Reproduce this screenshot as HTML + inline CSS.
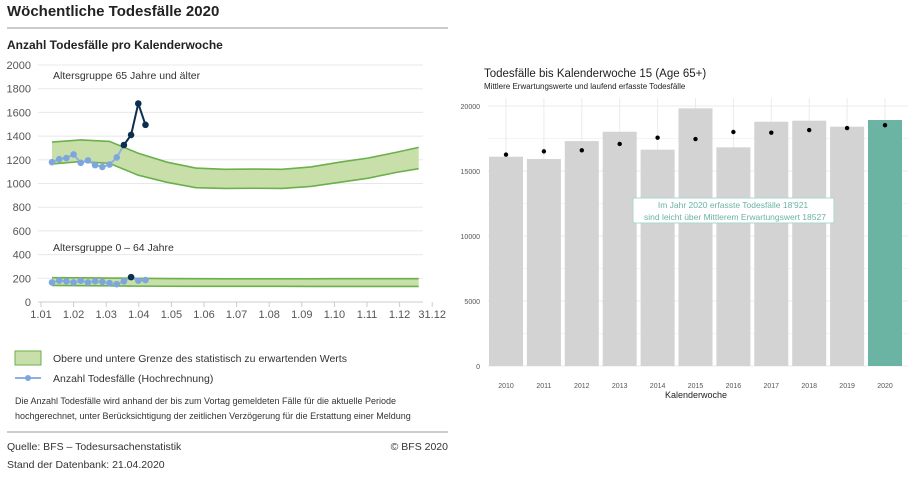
<!DOCTYPE html>
<html><head><meta charset="utf-8"><style>
body{margin:0;background:#fff;width:920px;height:484px;overflow:hidden;font-family:"Liberation Sans",sans-serif}
svg{display:block}
</style></head><body>
<svg id="s" width="920" height="484" xmlns="http://www.w3.org/2000/svg" font-family="Liberation Sans, sans-serif">
<text x="7" y="16" font-size="15" font-weight="bold" fill="#222">Wöchentliche Todesfälle 2020</text>
<line x1="7" y1="28" x2="448" y2="28" stroke="#bbb" stroke-width="1.5"/>
<text x="7" y="49" font-size="12" font-weight="bold" fill="#222">Anzahl Todesfälle pro Kalenderwoche</text>
<g id="left"></g>
<g id="right"></g>
<g>
<rect x="15" y="351" width="26" height="14" fill="#c9dfaa" stroke="#6ab04c" stroke-width="1"/>
<text x="53" y="362" font-size="10.5" fill="#333">Obere und untere Grenze des statistisch zu erwartenden Werts</text>
<line x1="15" y1="378" x2="41" y2="378" stroke="#8eb1e0" stroke-width="2"/>
<circle cx="28" cy="378" r="3" fill="#7fa6dc"/>
<text x="53" y="382" font-size="10.5" fill="#333">Anzahl Todesfälle (Hochrechnung)</text>
</g>
<text x="15" y="404" font-size="9" fill="#333">Die Anzahl Todesfälle wird anhand der bis zum Vortag gemeldeten Fälle für die aktuelle Periode</text>
<text x="15" y="419" font-size="9" fill="#333">hochgerechnet, unter Berücksichtigung der zeitlichen Verzögerung für die Erstattung einer Meldung</text>
<line x1="7" y1="432" x2="448" y2="432" stroke="#bbb" stroke-width="1.5"/>
<text x="7" y="450" font-size="10.5" fill="#333">Quelle: BFS – Todesursachenstatistik</text>
<text x="448" y="450" font-size="10.5" fill="#333" text-anchor="end">© BFS 2020</text>
<text x="7" y="468" font-size="10.5" fill="#333">Stand der Datenbank: 21.04.2020</text>
</svg>
<script>
const NS="http://www.w3.org/2000/svg";
// Left chart data
const yTicksL=[0,200,400,600,800,1000,1200,1400,1600,1800,2000];
const xTickLabelsL=["1.01","1.02","1.03","1.04","1.05","1.06","1.07","1.08","1.09","1.10","1.11","1.12","31.12"];
const bandWeeks=[1,5,9,13,17,21,25,29,33,37,41,45,49,52];
const upper65=[1350,1368,1355,1255,1180,1130,1120,1122,1120,1140,1180,1215,1265,1305];
const lower65=[1165,1185,1170,1070,1010,965,958,960,958,975,1010,1045,1095,1125];
const upper064=[205,204,202,200,198,197,196,196,196,196,197,197,197,197];
const lower064=[140,138,136,134,133,132,132,132,132,131,131,131,131,131];
const weeks=[1,2,3,4,5,6,7,8,9,10,11,12,13,14];
const deaths65=[1180,1205,1215,1245,1175,1195,1155,1140,1160,1220,1325,1410,1675,1495];
const deaths064=[165,180,175,165,180,165,175,170,160,150,175,210,180,185];
const dark65From=10; // index from which 65+ is dark
const dark064=[11];
// Right chart data
const years=["2010","2011","2012","2013","2014","2015","2016","2017","2018","2019","2020"];
const recorded=[16100,15920,17300,18020,16640,19820,16820,18790,18870,18410,18921];
const expected=[16260,16510,16590,17080,17560,17460,18000,17950,18150,18300,18527];
const yTicksR=[0,5000,10000,15000,20000];

function mk(tag,attrs,parent,txt){const e=document.createElementNS(NS,tag);for(const k in attrs)e.setAttribute(k,attrs[k]);if(txt!=null)e.textContent=txt;parent.appendChild(e);return e;}
const L=document.getElementById('left');
const yL=v=>302-v*(237/2000);
const xW=w=>52+(w-1)*7.19;
yTicksL.forEach(t=>{
 const g=mk('line',{x1:38,x2:423,y1:yL(t),y2:yL(t),stroke:t===0?'#ccc':'#e8e8e8'},L);
 
 
 const tx=mk('text',{x:31,y:yL(t)+4,'font-size':11,fill:'#555','text-anchor':'end'},L,String(t));
 
 
});
xTickLabelsL.forEach((s,i)=>{
 const x=41+i*32.6;
 const tk=mk('line',{x1:x,x2:x,y1:302,y2:307,stroke:'#ccc'},L);
 
 
 const tx=mk('text',{x:x,y:318,'font-size':11,fill:'#555','text-anchor':'middle'},L,s);
 
 
});
function band(up,lo,name){
 let d='M'+bandWeeks.map((w,i)=>xW(w)+','+yL(up[i])).join('L');
 d+='L'+bandWeeks.slice().reverse().map((w,i)=>xW(w)+','+yL(lo[lo.length-1-i])).join('L')+'Z';
 const p=mk('path',{d:d,fill:'#c9dfaa',stroke:'none'},L);
 
 
 [up,lo].forEach((arr,k)=>{
  const l=mk('path',{d:'M'+bandWeeks.map((w,i)=>xW(w)+','+yL(arr[i])).join('L'),fill:'none',stroke:'#6ab04c','stroke-width':1.6},L);
  
  
 });
}
band(upper65,lower65,'band-65plus');
band(upper064,lower064,'band-0-64');
function series(vals,isDark,name){
 for(let i=0;i<vals.length-1;i++){
  const dk=isDark(i)&&isDark(i+1);
  const l=mk('line',{x1:xW(weeks[i]),y1:yL(vals[i]),x2:xW(weeks[i+1]),y2:yL(vals[i+1]),stroke:dk?'#0d2f4f':'#8eb1e0','stroke-width':2},L);
  
  
 }
 vals.forEach((v,i)=>{
  const c=mk('circle',{cx:xW(weeks[i]),cy:yL(v),r:3.3,fill:isDark(i)?'#0d2f4f':'#7fa6dc'},L);
  
  
 });
}
series(deaths65,i=>i>=dark65From,'deaths-65plus');
series(deaths064,i=>dark064.includes(i),'deaths-0-64');
let t1=mk('text',{x:53,y:79,'font-size':10.5,fill:'#333'},L,'Altersgruppe 65 Jahre und älter');


let t2=mk('text',{x:53,y:251,'font-size':10.5,fill:'#333'},L,'Altersgruppe 0 – 64 Jahre');



// Right chart
const R=document.getElementById('right');
const yR=v=>366-v*(260/20000);
const xR=i=>506+i*37.9;
let rt=mk('text',{x:484,y:77,'font-size':11.5,fill:'#222'},R,'Todesfälle bis Kalenderwoche 15 (Age 65+)');


let rs=mk('text',{x:484,y:89,'font-size':8,fill:'#222'},R,'Mittlere Erwartungswerte und laufend erfasste Todesfälle');


for(let v=0;v<=20000;v+=2500){
 const g=mk('line',{x1:488,x2:908,y1:yR(v),y2:yR(v),stroke:v%5000===0?'#ebebeb':'#f4f4f4'},R);
 
 
}
years.forEach((y,i)=>{
 const g=mk('line',{x1:xR(i),x2:xR(i),y1:yR(20000)-8,y2:366,stroke:'#ebebeb'},R);
 
 
});
yTicksR.forEach(t=>{
 const tx=mk('text',{x:480,y:yR(t)+3,'font-size':7,fill:'#555','text-anchor':'end'},R,String(t));
 
 
});
years.forEach((y,i)=>{
 const b=mk('rect',{x:xR(i)-17,y:yR(recorded[i]),width:34,height:366-yR(recorded[i]),fill:y==='2020'?'#6bb3a2':'#d3d3d3'},R);
 
 
 const c=mk('circle',{cx:xR(i),cy:yR(expected[i]),r:2.2,fill:'#000'},R);
 
 
 const tx=mk('text',{x:xR(i),y:388,'font-size':7,fill:'#555','text-anchor':'middle'},R,y);
 
 
});
let xt=mk('text',{x:696,y:398,'font-size':9,fill:'#222','text-anchor':'middle'},R,'Kalenderwoche');


let ab=mk('rect',{x:633,y:198,width:201,height:25,fill:'#fff',stroke:'#a8d8cb','stroke-width':1,rx:1.5},R);


let a1=mk('text',{x:733,y:208,'font-size':8.5,fill:'#6bb3a2','text-anchor':'middle'},R,'Im Jahr 2020 erfasste Todesfälle 18\'921');


let a2=mk('text',{x:735,y:220,'font-size':8.5,fill:'#6bb3a2','text-anchor':'middle'},R,'sind leicht über Mittlerem Erwartungswert 18527');


</script>
</body></html>
